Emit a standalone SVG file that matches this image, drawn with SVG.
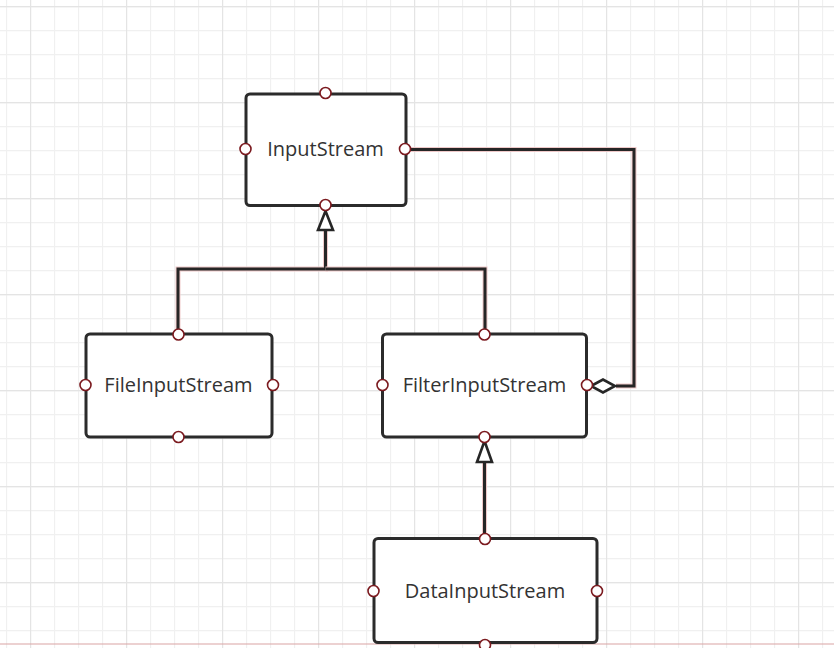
<svg xmlns="http://www.w3.org/2000/svg" width="834" height="648" viewBox="0 0 834 648">
  <defs>
    <pattern id="minor" patternUnits="userSpaceOnUse" x="6" y="6" width="24" height="24">
      <path d="M0.5 0V24M0 0.5H24" stroke="#f0f0f0" stroke-width="1.3" fill="none"/>
    </pattern>
    <pattern id="major" patternUnits="userSpaceOnUse" x="30" y="6" width="96" height="96">
      <path d="M0.5 0V96M0 0.5H96" stroke="#e4e4e4" stroke-width="1.3" fill="none"/>
    </pattern>
  </defs>
  <style>
    .box { fill: #ffffff; stroke: #2b2b2b; stroke-width: 3; }
    .label { font-family: "Open Sans", "Noto Sans", "Liberation Sans", sans-serif; font-size: 20px; fill: #333333; text-anchor: middle; dominant-baseline: central; }
    .port { fill: #ffffff; stroke: #7b1a1f; stroke-width: 1.6; }
    .halo { fill: none; stroke: #efc9c9; stroke-width: 5; stroke-linejoin: miter; }
    .wire { fill: none; stroke: #262626; stroke-width: 3; stroke-linejoin: miter; }
    .head { fill: #ffffff; stroke: #262626; stroke-width: 2.6; stroke-linejoin: miter; }
  </style>
  <rect x="0" y="0" width="834" height="648" fill="#ffffff"/>
  <rect x="0" y="0" width="834" height="648" fill="url(#minor)"/>
  <rect x="0" y="0" width="834" height="648" fill="url(#major)"/>
  <line x1="0" y1="644" x2="834" y2="644" stroke="#d9a3a3" stroke-width="1.2"/>

  <g id="connectors">
    <g id="conn-file-input">
      <path class="halo" d="M178 334V269H325.5V231"/>
      <path class="wire" d="M178 334V269H325.5V231"/>
    </g>
    <g id="conn-filter-input">
      <path class="halo" d="M485 334V269H325.5"/>
      <path class="wire" d="M485 334V269H325.5"/>
      <path class="head" d="M325.5 211L333 230H318Z"/>
    </g>
    <g id="conn-input-filter-aggr">
      <path class="halo" d="M405 149.5H634V386H616"/>
      <path class="wire" d="M405 149.5H634V386H616"/>
      <path class="head" d="M591 386L603 379.5L615 386L603 392.5Z"/>
    </g>
    <g id="conn-data-filter">
      <path class="halo" d="M484.5 539V462"/>
      <path class="wire" d="M484.5 539V462"/>
      <path class="head" d="M484.5 441L492 462H477Z"/>
    </g>
  </g>

  <g id="node-InputStream">
    <rect class="box" x="246" y="94" width="160" height="111.5" rx="4"/>
    <text class="label" x="325.5" y="148.5">InputStream</text>
    <circle class="port" cx="325.5" cy="93" r="5.5"/>
    <circle class="port" cx="245.5" cy="149" r="5.5"/>
    <circle class="port" cx="405" cy="149" r="5.5"/>
    <circle class="port" cx="325.5" cy="205" r="5.5"/>
  </g>

  <g id="node-FileInputStream">
    <rect class="box" x="86" y="334" width="186" height="103" rx="4"/>
    <text class="label" x="178.5" y="384.5">FileInputStream</text>
    <circle class="port" cx="178.5" cy="334.5" r="5.5"/>
    <circle class="port" cx="85.5" cy="385" r="5.5"/>
    <circle class="port" cx="273" cy="385" r="5.5"/>
    <circle class="port" cx="178.5" cy="437" r="5.5"/>
  </g>

  <g id="node-FilterInputStream">
    <rect class="box" x="382.5" y="334" width="204" height="103" rx="4"/>
    <text class="label" x="484.5" y="384.5">FilterInputStream</text>
    <circle class="port" cx="484.5" cy="334.5" r="5.5"/>
    <circle class="port" cx="382.5" cy="385" r="5.5"/>
    <circle class="port" cx="587" cy="385" r="5.5"/>
    <circle class="port" cx="484.5" cy="437" r="5.5"/>
  </g>

  <g id="node-DataInputStream">
    <rect class="box" x="374" y="538.5" width="223" height="104" rx="4"/>
    <text class="label" x="485" y="590.5">DataInputStream</text>
    <circle class="port" cx="485" cy="539" r="5.5"/>
    <circle class="port" cx="373.5" cy="591" r="5.5"/>
    <circle class="port" cx="597" cy="591" r="5.5"/>
    <circle class="port" cx="485" cy="645" r="5.5"/>
  </g>
</svg>
